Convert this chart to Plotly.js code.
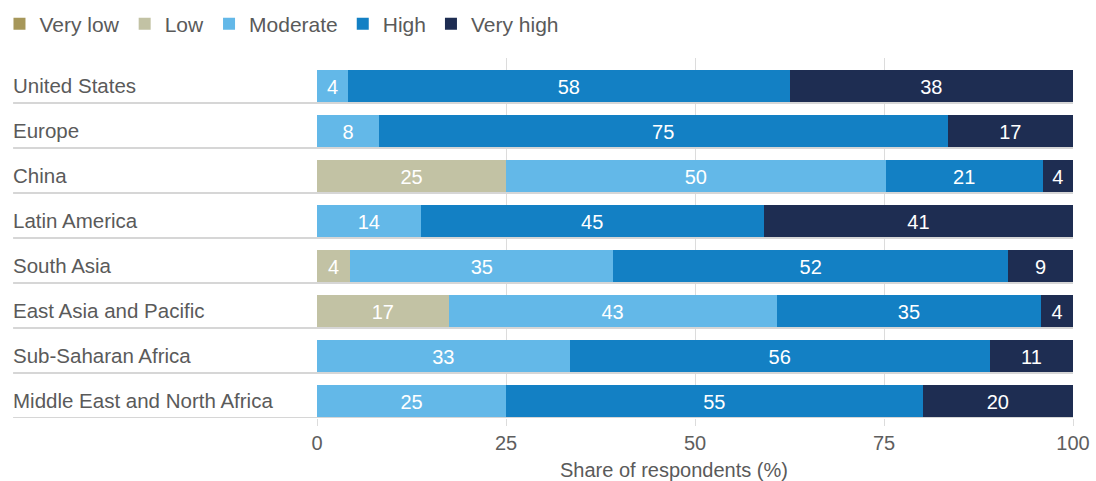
<!DOCTYPE html>
<html><head><meta charset="utf-8">
<script src="https://cdn.plot.ly/plotly-3.0.1.min.js"></script>
<style>html,body{margin:0;padding:0;background:#fff}#chart{width:1096px;height:481px}</style>
</head><body><div id="chart"></div>
<script>
var regions = ["United States","Europe","China","Latin America","South Asia","East Asia and Pacific","Sub-Saharan Africa","Middle East and North Africa"];
var levels = ["Very low","Low","Moderate","High","Very high"];
var veryLow  = [0,0,0,0,0,0,0,0];
var low      = [0,0,25.0,0,4.4,17.4,0,0];
var moderate = [4.1,8.2,50.2,13.7,34.8,43.4,33.4,25.0];
var high     = [58.4,75.2,20.8,45.4,52.2,35.0,55.6,55.1];
var veryHigh = [37.5,16.6,4.0,40.9,8.6,4.2,11.0,19.9];
var colors = ["#A6975A","#C2C2A4","#63B8E8","#1380C4","#1E2D52"];
var series = [veryLow, low, moderate, high, veryHigh];

var FONT = "Liberation Sans, Arial, sans-serif";
var pos = regions.map(function(_, i){ return i; });
var traces = series.map(function(vals, k){
  return {
    type: "bar", orientation: "h", name: levels[k],
    x: vals, y: pos,
    width: 0.73, offset: -0.23,
    marker: {color: colors[k], line: {width: 0}},
    text: vals.map(function(v){ return v > 0 ? String(Math.round(v)) : ""; }),
    textposition: "inside", insidetextanchor: "middle", textangle: 0,
    constraintext: "none",
    textfont: {family: FONT, size: 20, color: "#ffffff"},
    hoverinfo: "name+x"
  };
});

var shapes = regions.map(function(_, i){
  return {type: "line", xref: "paper", yref: "y", x0: -0.402, x1: 1, y0: i + 0.5, y1: i + 0.5,
          line: {color: "#d6d6d6", width: 2}, layer: "above"};
});
var annotations = regions.map(function(r, i){
  return {xref: "paper", yref: "y", x: -0.405, y: i + 0.11, xanchor: "left", yanchor: "middle",
          text: r, showarrow: false, font: {family: FONT, size: 20.5, color: "#5a5a5a"}};
});
annotations.push({xref: "paper", yref: "paper", x: 0.472, y: -0.145, xanchor: "center", yanchor: "middle",
  text: "Share of respondents (%)", showarrow: false, font: {family: FONT, size: 20, color: "#5a5a5a"}});

var layout = {
  width: 1096, height: 481,
  margin: {l: 317, r: 23, t: 58, b: 63, autoexpand: false},
  barmode: "stack",
  paper_bgcolor: "#fff", plot_bgcolor: "#fff",
  font: {family: FONT, color: "#5a5a5a"},
  showlegend: true,
  legend: {orientation: "h", x: -0.42, xanchor: "left", y: 1.094, yanchor: "middle",
           font: {family: FONT, size: 21, color: "#5a5a5a"}, traceorder: "normal", itemclick: false},
  xaxis: {range: [0, 100], autorange: false, tickvals: [0, 25, 50, 75, 100],
          showgrid: true, gridcolor: "#dcdcdc", gridwidth: 1, zeroline: false, showline: false,
          ticks: "outside", ticklen: 7, tickcolor: "#dcdcdc", tickwidth: 1,
          tickfont: {family: FONT, size: 20, color: "#5e5e5e"}},
  yaxis: {range: [7.5, -0.5], autorange: false, showticklabels: false, showgrid: false,
          zeroline: false, showline: false, ticks: ""},
  shapes: shapes,
  annotations: annotations
};
Plotly.newPlot("chart", traces, layout, {displayModeBar: false, staticPlot: true});
</script></body></html>
